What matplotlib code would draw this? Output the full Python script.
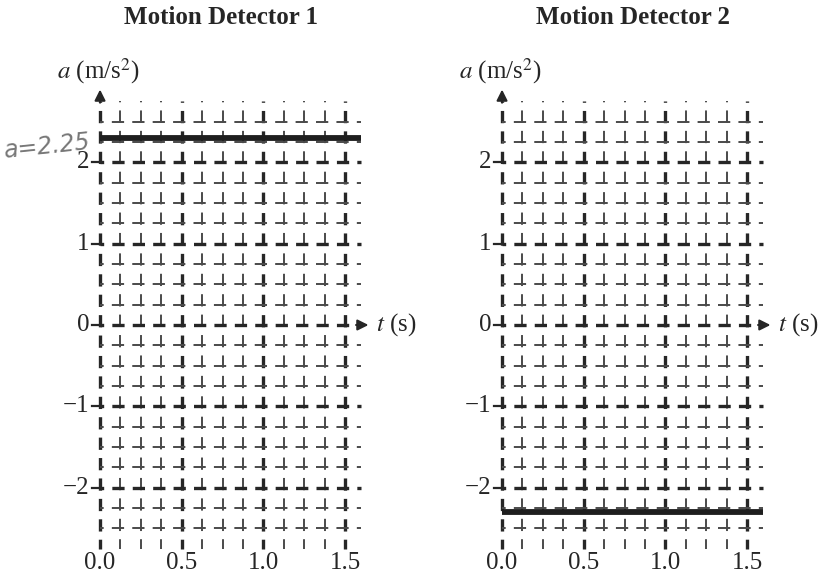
import numpy as np
import matplotlib.pyplot as plt

plt.rcParams['font.family'] = 'Liberation Serif'
plt.rcParams['mathtext.fontset'] = 'stix'

# chart content
titles = ['Motion Detector 1', 'Motion Detector 2']
title_x = [0.74, 0.80]
accel = [2.3, -2.3]            # constant acceleration of each detector (m/s^2)
t_end = 1.6                    # the line runs to the right edge of the grid
t_ticks = [0.0, 0.5, 1.0, 1.5]
t_labels = ['0.0', '0.5', '1.0', '1.5']
a_ticks = [-2, -1, 0, 1, 2]
a_labels = ['\u22122', '\u22121', '0', '1', '2']
t_grid = np.arange(0, 1.5001, 0.125)
a_grid = np.arange(-2.5, 2.5001, 0.25)
note = 'a=2.25'

ink = '#262626'
grid_c = '#4a4a4a'

fig = plt.figure(figsize=(8.3, 5.77), dpi=100)
lefts = [83.7 / 830, 485.7 / 830]


def dashed(lw, frac=0.6, shift=0.2):
    # dash pattern with one period per grid cell
    per = 14.7 / lw
    on = per * frac
    return (on * shift, (on, per - on))


for k in range(2):
    ax = fig.add_axes([lefts[k], 0.0281, 294.1 / 830, 0.8314])
    ax.set_xlim(-0.1, 1.7)
    ax.set_ylim(-2.9, 3.0)
    ax.axis('off')

    # vertical grid lines
    for t in t_grid:
        major = abs(t / 0.5 - round(t / 0.5)) < 1e-6
        lw = 2.4 if major else 1.4
        ax.plot([t, t], [-2.75, 2.75], color=ink if major else grid_c, lw=lw,
                linestyle=dashed(lw), solid_capstyle='butt')

    # horizontal grid lines
    for a in a_grid:
        major = abs(a - round(a)) < 1e-6
        lw = 2.4 if major else 1.4
        ax.plot([0, 1.6], [a, a], color=ink if major else grid_c, lw=lw,
                linestyle=dashed(lw, shift=0.7))

    # axis arrows
    ax.annotate('', xy=(0, 2.93), xytext=(0, 2.7),
                arrowprops=dict(arrowstyle='-|>', color=ink, lw=1.5,
                                mutation_scale=16))
    ax.annotate('', xy=(1.66, 0), xytext=(1.55, 0),
                arrowprops=dict(arrowstyle='-|>', color=ink, lw=1.5,
                                mutation_scale=16))

    # ticks and tick labels
    for a, lab in zip(a_ticks, a_labels):
        ax.plot([-0.05, 0], [a, a], color=ink, lw=1.6)
        ax.text(-0.065, a, lab, ha='right', va='center', fontsize=18,
                color=ink)
    for t, lab in zip(t_ticks, t_labels):
        ax.text(t, -2.93, lab, ha='center', va='center', fontsize=18,
                color=ink)

    # acceleration line
    ax.plot([0, t_end], [accel[k], accel[k]], color='#1e1e1e', lw=4.2,
            solid_capstyle='butt')

    # labels
    ax.text(-0.01, 3.12, r'$a$ (m/s$^2$)', ha='center', va='center',
            fontsize=18, color=ink)
    ax.text(1.69, 0, r'$t$ (s)', ha='left', va='center', fontsize=18,
            color=ink)
    ax.text(title_x[k], 3.78, titles[k], ha='center', va='center',
            fontsize=18, color=ink, weight='bold')

    if k == 0:
        ax.text(-0.6, 2.2, note, ha='left', va='center', fontsize=17,
                color='#777777', style='italic', rotation=6,
                family='DejaVu Sans')

fig.savefig('out.png', dpi=100)
